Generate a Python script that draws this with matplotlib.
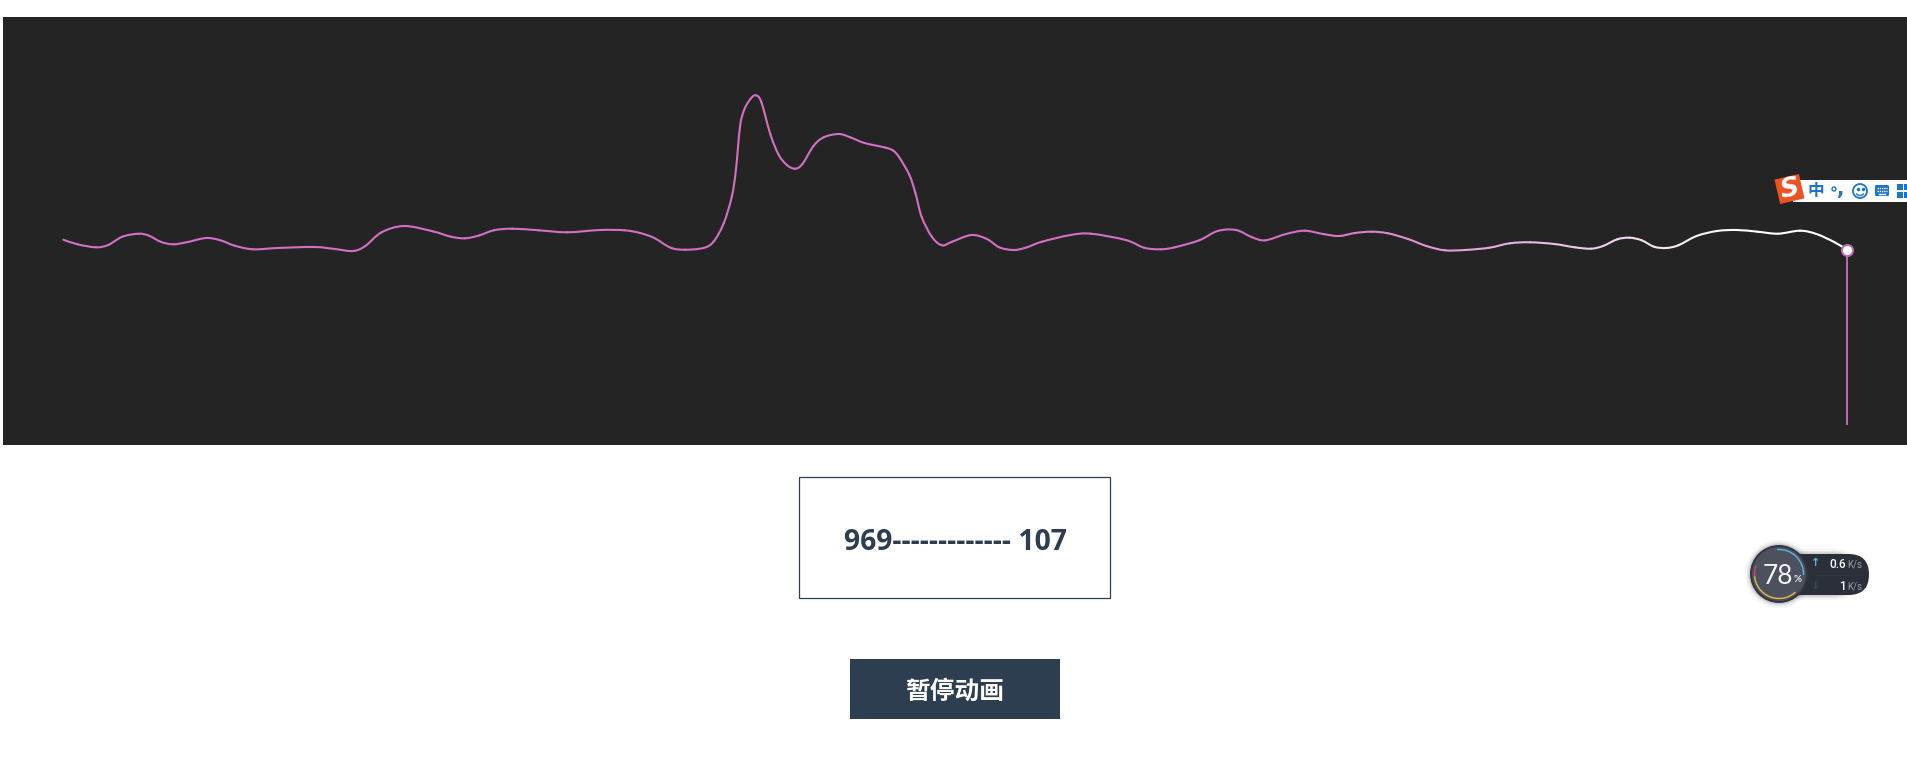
import numpy as np
import matplotlib
matplotlib.use("Agg")
import matplotlib.pyplot as plt
from matplotlib.path import Path
from matplotlib.patches import PathPatch, Rectangle, Circle, Arc, FancyBboxPatch
from matplotlib.colors import to_rgb

# Curve (pixel positions of the page)
curve_x = [63.3, 77.6, 95.9, 108.2, 122.4, 138.8, 149, 161.2, 173.5, 187.8, 206.1, 220.4,
           234.7, 253.1, 277.6, 314.3, 334.7, 353.1, 365.3, 381.6, 404.1, 432.7, 451, 465.3,
           479.6, 493.9, 512.2, 538.8, 567.3, 600, 624.5, 640, 654.3, 670.6, 684.9, 703.3,
           713.5, 723.7, 731.8, 735.9, 740, 744.1, 750.2, 755.5, 761.2, 770.6, 778.8, 786.9,
           795.1, 802.4, 813.5, 823.7, 838.8, 850.2, 864.5, 885, 893, 899, 909.4, 915.5, 921.6,
           931.8, 942, 952.2, 971.4, 986.9, 999.2, 1013.5, 1025.7, 1042, 1070.6, 1091, 1125.7,
           1144.1, 1160.4, 1174.7, 1199.2, 1217.6, 1236, 1252.2, 1265.3, 1286, 1304.5, 1323,
           1339, 1355, 1371.6, 1388, 1408, 1426.4, 1444.7, 1465, 1489.4, 1509.7, 1530, 1554.4,
           1574.7, 1591, 1603, 1617.3, 1629.5, 1641.7, 1654, 1666, 1678.3, 1696.6, 1717, 1737,
           1757.5, 1778, 1800, 1816.4, 1834.7, 1846.9]
curve_y = [239.7, 244.3, 247.3, 245, 236.7, 233.7, 235.7, 242, 244.3, 242, 238, 240.3,
           245.7, 249.3, 248, 247, 249, 251, 246, 232.3, 226, 231.3, 236.7, 238.3,
           235.3, 230.3, 228.7, 230.3, 232.3, 230, 230.3, 233, 238, 247.7, 249.7, 248,
           241.7, 223.3, 196.7, 170, 126.7, 110, 99.3, 95.3, 101.7, 135, 155, 165,
           168.7, 164, 146, 137.3, 134, 137.3, 143, 147.5, 150.5, 157, 175, 193.3, 216.7,
           236.7, 245.3, 241.7, 235, 239, 247.3, 250, 247.7, 241.7, 235, 233.7, 240,
           247.7, 249.3, 247.3, 240.3, 231, 230, 237.3, 240.3, 234, 230.7, 234,
           236, 233, 231.7, 233.3, 239, 246, 250.3, 250, 247.7, 243.3, 242.3, 244,
           247.3, 248.7, 246, 239.3, 237.7, 240.3, 246.7, 248, 245.3, 236, 231, 230,
           231.7, 233.7, 230.7, 234, 242.3, 249.7]

counter_left = "969"
counter_right = "107"
button_label = "暂停动画"
cpu_percent = "78"
upload_speed = "0.6"
download_speed = "1"

PINK = "#d470c4"
NAVY = "#2c3e50"
IME_BLUE = "#1c74c8"

fig = plt.figure(figsize=(19.07, 7.70), dpi=100, facecolor="white")
ax = fig.add_axes([0, 0, 1, 1])
ax.set_xlim(0, 1907)
ax.set_ylim(770, 0)
ax.axis("off")

# Dark panel
ax.add_patch(Rectangle((3, 17), 1904, 428, fc="#242424", ec="none", zorder=1))

# Smooth line, one bezier piece at a time so it can fade to white
pts = np.column_stack([curve_x, curve_y])
for i in range(len(pts) - 1):
    p0 = pts[max(i - 1, 0)]
    p1 = pts[i]
    p2 = pts[i + 1]
    p3 = pts[min(i + 2, len(pts) - 1)]
    c1 = p1 + (p2 - p0) / 6
    c2 = p2 - (p3 - p1) / 6
    t = np.clip((p1[0] - 1300) / 440, 0, 1)
    col = (1 - t) * np.array(to_rgb(PINK)) + t * np.array([1, 1, 1])
    seg = Path([p1, c1, c2, p2], [Path.MOVETO, Path.CURVE4, Path.CURVE4, Path.CURVE4])
    ax.add_patch(PathPatch(seg, fc="none", ec=col, lw=1.5, capstyle="round", zorder=3))

# Stem and end marker
ax.plot([curve_x[-1], curve_x[-1]], [curve_y[-1], 425], color="#c468b4", lw=1.4,
        solid_capstyle="butt", zorder=2)
ax.plot(curve_x[-1], curve_y[-1], "o", ms=8, mfc="white", mec="#c468b4", mew=1.4, zorder=4)

# Counter box
ax.add_patch(Rectangle((799, 477), 311, 121, fc="white", ec=NAVY, lw=0.9, zorder=2))
ax.text(955, 542, counter_left + "-" * 13 + " " + counter_right, color=NAVY, fontsize=20.3,
        fontweight="bold", family="Open Sans", ha="center", va="center", zorder=3)

# Button
ax.add_patch(Rectangle((850, 659), 210, 60, fc=NAVY, ec="none", zorder=2))
ax.text(955, 692, button_label, color="white", fontsize=17.8, fontweight="bold",
        family="Noto Sans CJK SC", ha="center", va="center", zorder=3)

# Network speed widget
for pad, alpha in [(5, 0.04), (3, 0.06), (1.5, 0.1)]:
    ax.add_patch(FancyBboxPatch((1785 - pad, 554 - pad), 69 + 2 * pad, 41 + 2 * pad,
                                boxstyle="round,pad=0,rounding_size=%f" % (20 + pad),
                                fc="#000000", ec="none", alpha=alpha, zorder=5))
    ax.add_patch(Circle((1779, 574), 29 + pad, fc="#000000", ec="none", alpha=alpha, zorder=5))
ax.add_patch(FancyBboxPatch((1770, 554), 99, 41, boxstyle="round,pad=0,rounding_size=20.5",
                            fc="#2b2f3a", ec="none", zorder=6))
ax.plot([1815, 1862], [574.5, 574.5], color="#3a3f4b", lw=0.6, ls=":", zorder=7)
ax.add_patch(Circle((1779, 574), 29, fc="#33363f", ec="none", zorder=7))
ax.add_patch(Circle((1779, 574), 27, fc="#4d515e", ec="none", zorder=7))
# y axis is flipped here, so Arc angles run clockwise on screen
ax.add_patch(Arc((1779, 574), 49, 49, theta1=-95, theta2=2, color="#5cb6de", lw=1.0, zorder=8))
ax.add_patch(Arc((1779, 574), 49, 49, theta1=48, theta2=175, color="#e4bc48", lw=1.0, zorder=8))
ax.add_patch(Arc((1779, 574), 49, 49, theta1=175, theta2=200, color="#c8504c", lw=1.0, zorder=8))
ax.text(1778, 576, cpu_percent, color="#f4f4f4", fontsize=19, family="Lato",
        ha="center", va="center", zorder=9)
ax.text(1798, 580, "%", color="#e8e8e8", fontsize=7, family="Lato", fontweight="bold",
        ha="center", va="center", zorder=9)
ax.text(1846, 564, upload_speed, color="white", fontsize=8.5, family="Roboto", fontweight="medium",
        ha="right", va="center", zorder=9)
ax.text(1847, 565, "K/s", color="#9aa0ac", fontsize=7, family="Roboto", ha="left", va="center", zorder=9)
ax.text(1846, 586, download_speed, color="white", fontsize=8.5, family="Roboto", fontweight="medium",
        ha="right", va="center", zorder=9)
ax.text(1847, 587, "K/s", color="#9aa0ac", fontsize=7, family="Roboto", ha="left", va="center", zorder=9)
ax.text(1816, 563.5, "↑", color="#5cb6de", fontsize=8, fontweight="bold", ha="center", va="center", zorder=9)
ax.text(1816, 585.5, "↓", color="#35503f", fontsize=8, fontweight="bold", ha="center", va="center", zorder=9)

# Input method toolbar
ax.add_patch(Rectangle((1793, 180), 114, 22, fc="white", ec="none", zorder=5))
ax.add_patch(Rectangle((1777, 176.5), 25, 25, fc="#ee5220", ec="none", zorder=6,
                       transform=matplotlib.transforms.Affine2D().rotate_deg_around(1789.5, 189, -13) + ax.transData))
ax.text(1789.5, 189, "S", color="white", fontsize=19, fontweight="bold", fontstyle="italic",
        family="DejaVu Sans", ha="center", va="center", rotation=10, zorder=7)
ax.text(1816, 191, "中", color=IME_BLUE, fontsize=12, fontweight="bold", family="Noto Sans CJK SC",
        ha="center", va="center", zorder=7)
ax.add_patch(Circle((1834, 189), 2, fc="white", ec=IME_BLUE, lw=1, zorder=7))
ax.text(1841, 190, ",", color=IME_BLUE, fontsize=14, fontweight="bold", ha="center", va="center", zorder=7)
ax.add_patch(Circle((1860, 191), 7, fc="white", ec=IME_BLUE, lw=1.3, zorder=7))
ax.plot([1857.5, 1862.5], [188.5, 188.5], "o", ms=1.5, color=IME_BLUE, zorder=8)
ax.add_patch(Arc((1860, 192), 8, 7, theta1=20, theta2=160, color=IME_BLUE, lw=1, zorder=8))
ax.add_patch(FancyBboxPatch((1875, 185), 14, 11, boxstyle="round,pad=0,rounding_size=1.5",
                            fc=IME_BLUE, ec="none", zorder=7))
for row_y in [188, 190.5]:
    ax.plot([1877, 1887], [row_y, row_y], color="white", lw=1, ls=(0, (1, 0.6)), zorder=8)
ax.plot([1879, 1885], [193.5, 193.5], color="white", lw=1, zorder=8)
ax.add_patch(Rectangle((1897, 184), 6, 6, fc=IME_BLUE, ec="none", zorder=7))
ax.add_patch(Rectangle((1897, 191.5), 6, 6.5, fc=IME_BLUE, ec="none", zorder=7))
ax.add_patch(Rectangle((1904, 184), 3, 6, fc=IME_BLUE, ec="none", zorder=7))
ax.add_patch(Rectangle((1904, 191.5), 3, 6.5, fc=IME_BLUE, ec="none", zorder=7))

fig.savefig("out.png", dpi=100, facecolor="white")
